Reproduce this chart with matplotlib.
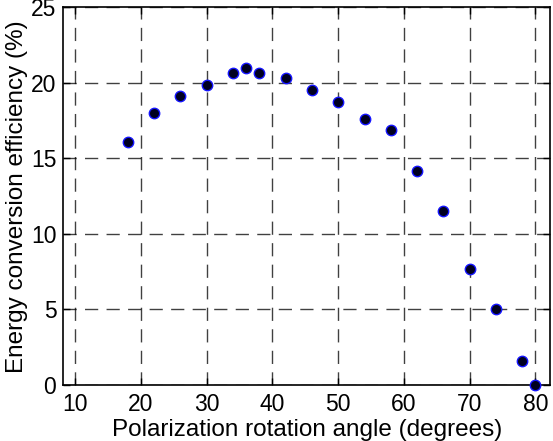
import numpy as np
import matplotlib
matplotlib.use('Agg')
import matplotlib.pyplot as plt

plt.rcParams['font.family'] = ['Liberation Sans', 'DejaVu Sans']

angle = [18, 22, 26, 30, 34, 36, 38, 42, 46, 50, 54, 58, 62, 66, 70, 74, 78, 80]
efficiency = [16.1, 18.0, 19.15, 19.9, 20.67, 21.02, 20.67, 20.3, 19.52, 18.71,
              17.6, 16.88, 14.18, 11.5, 7.7, 5.0, 1.6, 0.0]
xticks = [10, 20, 30, 40, 50, 60, 70, 80]
yticks = [0, 5, 10, 15, 20, 25]

fig = plt.figure(figsize=(5.53, 4.41), dpi=100)
ax = fig.add_axes([0.1145, 0.127, 0.88, 0.856])

ax.plot(angle, efficiency, 'o', markersize=7.5, markerfacecolor='#000020',
        markeredgecolor='#1515ff', markeredgewidth=1.0, zorder=3, clip_on=False)

ax.set_xlim(8.2, 82.2)
ax.set_ylim(0, 25)
ax.set_xticks(xticks)
ax.set_yticks(yticks)
ax.grid(True, color='black', linestyle=(0, (9.5, 6)), linewidth=1.0, alpha=0.75)
ax.tick_params(direction='in', top=True, right=True, labelsize=16.5, length=5, width=1)
ax.tick_params(axis='x', pad=6)
ax.tick_params(axis='y', pad=5)
for s in ax.spines.values():
    s.set_linewidth(1.2)

ax.set_xlabel('Polarization rotation angle (degrees)', fontsize=17.5, labelpad=2)
ax.set_ylabel('Energy conversion efficiency (%)', fontsize=17.5, labelpad=2)

fig.savefig('out.png', dpi=100)
